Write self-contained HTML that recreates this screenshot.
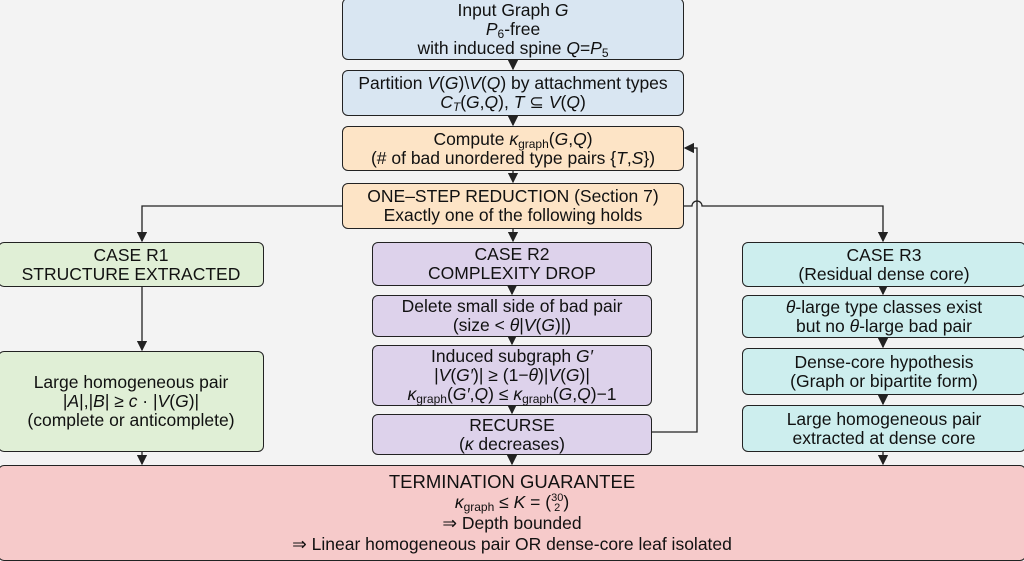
<!DOCTYPE html>
<html><head><meta charset="utf-8"><style>
body{margin:0;width:1024px;height:559px;background:#f3f3f3;position:relative;overflow:hidden;font-family:"Liberation Sans","DejaVu Sans",sans-serif;color:#111}
.b{position:absolute;box-sizing:border-box;border:1.5px solid #222;border-radius:6px;display:flex;flex-direction:column;justify-content:center;align-items:center;text-align:center;font-size:17.5px;line-height:19px}
.b>span{display:block;white-space:nowrap}
.bl{background:#d9e6f2}.or{background:#fde4c6}.gr{background:#e0efd6}.pu{background:#ddd2eb}.cy{background:#cdeeee}.rd{background:#f6caca}
i{font-style:italic}
sub{font-size:12px;line-height:0;vertical-align:-3px}
.bn{display:inline-block;vertical-align:middle;font-size:11px;line-height:10px;text-align:center}
svg{position:absolute;left:0;top:0}
</style></head><body>
<svg width="1024" height="559">
<defs><marker id="a" markerWidth="8" markerHeight="8" refX="7" refY="4" orient="auto"><path d="M0,0L8,4L0,8z" fill="#222"/></marker></defs>
<g stroke="#222" stroke-width="1.3" fill="none">
<line x1="513" y1="60" x2="513" y2="69" marker-end="url(#a)"/>
<line x1="513" y1="116" x2="513" y2="125" marker-end="url(#a)"/>
<line x1="513" y1="171" x2="513" y2="182" marker-end="url(#a)"/>
<line x1="513" y1="229" x2="513" y2="241" marker-end="url(#a)"/>
<polyline points="342,206 142,206 142,241" marker-end="url(#a)"/>
<path d="M684,206 L692,206 A5,5 0 0 1 702,206 L883,206 L883,241" marker-end="url(#a)"/>
<polyline points="652,432 697,432 697,148 685,148" marker-end="url(#a)"/>
<line x1="512" y1="286" x2="512" y2="294" marker-end="url(#a)"/>
<line x1="512" y1="337" x2="512" y2="344" marker-end="url(#a)"/>
<line x1="512" y1="406" x2="512" y2="413" marker-end="url(#a)"/>
<line x1="142" y1="287" x2="142" y2="350" marker-end="url(#a)"/>
<line x1="883" y1="287" x2="883" y2="294" marker-end="url(#a)"/>
<line x1="883" y1="338" x2="883" y2="347" marker-end="url(#a)"/>
<line x1="883" y1="395" x2="883" y2="404" marker-end="url(#a)"/>
<line x1="142" y1="452" x2="142" y2="464" marker-end="url(#a)"/>
<line x1="512" y1="455" x2="512" y2="464" marker-end="url(#a)"/>
<line x1="883" y1="452" x2="883" y2="464" marker-end="url(#a)"/>
</g></svg>
<div class="b bl" style="left:342px;top:-2px;width:342px;height:62px"><span>Input Graph <i>G</i></span><span><i>P</i><sub>6</sub>-free</span><span>with induced spine <i>Q</i>=<i>P</i><sub>5</sub></span></div>
<div class="b bl" style="left:342px;top:70px;width:342px;height:46px"><span>Partition <i>V</i>(<i>G</i>)\<i>V</i>(<i>Q</i>) by attachment types</span><span><i>C</i><sub><i>T</i></sub>(<i>G</i>,<i>Q</i>), <i>T</i> ⊆ <i>V</i>(<i>Q</i>)</span></div>
<div class="b or" style="left:342px;top:126px;width:342px;height:45px"><span>Compute <i>κ</i><sub>graph</sub>(<i>G</i>,<i>Q</i>)</span><span>(# of bad unordered type pairs {<i>T</i>,<i>S</i>})</span></div>
<div class="b or" style="left:342px;top:183px;width:342px;height:46px"><span>ONE–STEP REDUCTION (Section 7)</span><span>Exactly one of the following holds</span></div>
<div class="b gr" style="left:-2px;top:242px;width:266px;height:45px"><span>CASE R1</span><span>STRUCTURE EXTRACTED</span></div>
<div class="b pu" style="left:372px;top:242px;width:280px;height:44px"><span>CASE R2</span><span>COMPLEXITY DROP</span></div>
<div class="b pu" style="left:372px;top:295px;width:280px;height:42px"><span>Delete small side of bad pair</span><span>(size &lt; <i>θ</i>|<i>V</i>(<i>G</i>)|)</span></div>
<div class="b pu" style="left:372px;top:345px;width:280px;height:61px"><span>Induced subgraph <i>G′</i></span><span>|<i>V</i>(<i>G′</i>)| ≥ (1−<i>θ</i>)|<i>V</i>(<i>G</i>)|</span><span><i>κ</i><sub>graph</sub>(<i>G′</i>,<i>Q</i>) ≤ <i>κ</i><sub>graph</sub>(<i>G</i>,<i>Q</i>)−1</span></div>
<div class="b pu" style="left:372px;top:414px;width:280px;height:41px"><span>RECURSE</span><span>(<i>κ</i> decreases)</span></div>
<div class="b cy" style="left:742px;top:242px;width:284px;height:45px"><span>CASE R3</span><span>(Residual dense core)</span></div>
<div class="b cy" style="left:742px;top:295px;width:284px;height:43px"><span><i>θ</i>-large type classes exist</span><span>but no <i>θ</i>-large bad pair</span></div>
<div class="b cy" style="left:742px;top:348px;width:284px;height:47px"><span>Dense-core hypothesis</span><span>(Graph or bipartite form)</span></div>
<div class="b cy" style="left:742px;top:405px;width:284px;height:47px"><span>Large homogeneous pair</span><span>extracted at dense core</span></div>
<div class="b gr" style="left:-2px;top:351px;width:266px;height:101px"><span>Large homogeneous pair</span><span>|<i>A</i>|,|<i>B</i>| ≥ <i>c</i> · |<i>V</i>(<i>G</i>)|</span><span>(complete or anticomplete)</span></div>
<div class="b rd" style="left:-2px;top:465px;width:1028px;height:96px;line-height:21px"><span style="font-size:18.5px">TERMINATION GUARANTEE</span><span><i>κ</i><sub>graph</sub> ≤ <i>K</i> = (<span class="bn">30<br>2</span>)</span><span>⇒ Depth bounded</span><span>⇒ Linear homogeneous pair OR dense-core leaf isolated</span></div>
</body></html>
